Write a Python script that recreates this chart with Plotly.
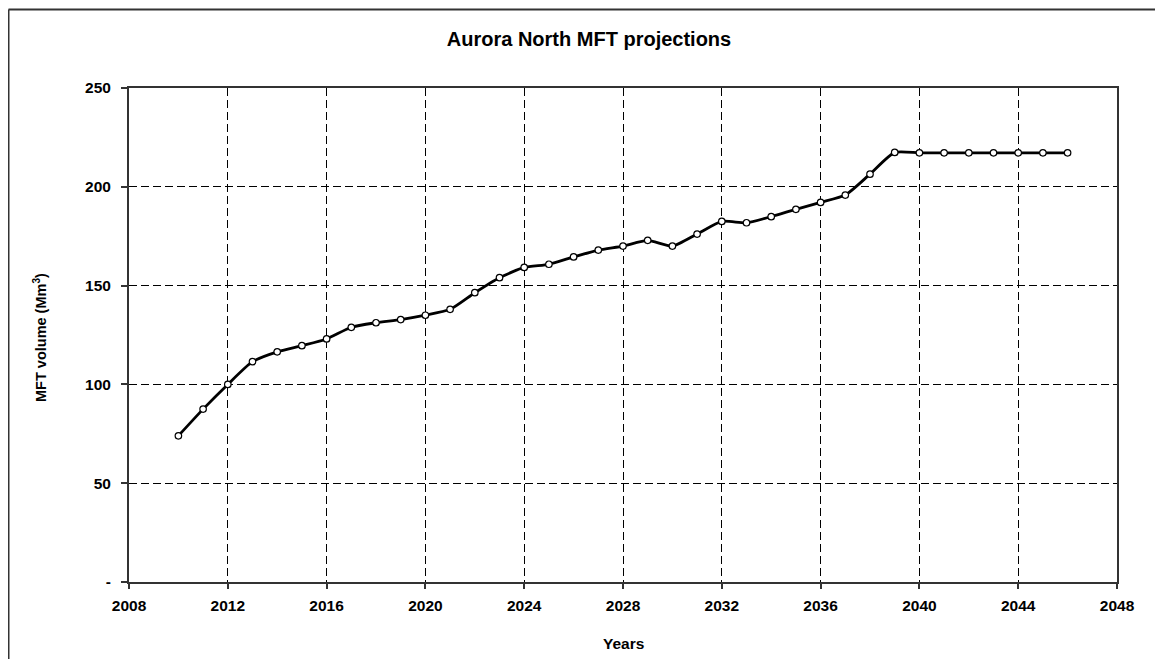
import plotly.graph_objects as go

years = list(range(2010, 2047))
mft_volume = [74.0, 87.5, 100.0, 111.5, 116.5, 119.6, 123.0, 128.9, 131.2, 132.8,
              135.0, 138.0, 146.4, 154.0, 159.2, 160.8, 164.5, 168.0, 170.0, 172.9,
              170.0, 176.1, 182.5, 181.8, 184.9, 188.6, 192.1, 195.8, 206.4, 217.4,
              217.2, 217.2, 217.2, 217.2, 217.2, 217.2, 217.2]

x_ticks = list(range(2008, 2049, 4))
y_ticks = [0, 50, 100, 150, 200, 250]
y_ticktext = ["-", "50", "100", "150", "200", "250"]

FONT = "Liberation Sans, Arial, sans-serif"

fig = go.Figure()
fig.add_trace(go.Scatter(
    x=years, y=mft_volume, mode="lines+markers",
    line=dict(color="black", width=2.8, shape="spline", smoothing=0.6),
    marker=dict(symbol="circle", size=6.5, color="white",
                line=dict(color="black", width=1.2)),
    showlegend=False, hoverinfo="x+y"))

# page body has an 8px margin: figure placed at (8, 8)
OFF = 8
W, H = 1163 - 2 * OFF, 667 - 2 * OFF
L, R, T, B = 129 - OFF, 1117 - OFF, 88 - OFF, 582 - OFF

def px(xp):
    return (xp - OFF - L) / (R - L)

def py(yp):
    return (B - (yp - OFF)) / (B - T)

fig.update_layout(
    width=W, height=H,
    margin=dict(l=L, r=W - R, t=T, b=H - B),
    paper_bgcolor="white", plot_bgcolor="white",
    font=dict(family=FONT, color="black", size=15),
    title=dict(text="<b>Aurora North MFT projections</b>",
               x=(589 - OFF) / W, xanchor="center",
               y=1 - (38.5 - OFF) / H, yanchor="middle",
               font=dict(size=20, family=FONT, color="black")),
)

fig.update_xaxes(
    range=[2008, 2048], tickvals=x_ticks, ticktext=[f"<b>{v}</b>" for v in x_ticks],
    showgrid=True, gridcolor="black", griddash="8px,4px", gridwidth=1.4,
    showline=True, linecolor="#333333", linewidth=2, mirror=True,
    ticks="outside", ticklen=5, tickwidth=1.5, tickcolor="#333333",
    tickfont=dict(size=15.5, family=FONT), zeroline=False, ticklabelstandoff=3)
fig.update_yaxes(
    range=[0, 250], tickvals=y_ticks, ticktext=[f"<b>{t}</b>" for t in y_ticktext],
    showgrid=True, gridcolor="black", griddash="8px,4px", gridwidth=1.4,
    showline=True, linecolor="#333333", linewidth=2, mirror=True,
    ticks="outside", ticklen=6, tickwidth=1.5, tickcolor="#333333",
    tickfont=dict(size=15.5, family=FONT), zeroline=False, ticklabelstandoff=7)

fig.add_annotation(text="<b>Years</b>", xref="paper", yref="paper",
                   x=px(623), y=py(643),
                   showarrow=False, font=dict(size=15.5, family=FONT),
                   xanchor="center", yanchor="middle")
fig.add_annotation(text="<b>MFT volume (Mm<sup>3</sup>)</b>", xref="paper", yref="paper",
                   x=px(40), y=py(338), textangle=-90,
                   showarrow=False, font=dict(size=14.5, family=FONT),
                   xanchor="center", yanchor="middle")

# outer chart border (only left and top edges are visible in the frame)
fig.add_shape(type="line", xref="paper", yref="paper",
              x0=px(8.5), x1=px(8.5), y0=py(700), y1=py(9.5),
              line=dict(color="#333333", width=2))
fig.add_shape(type="line", xref="paper", yref="paper",
              x0=px(8.5), x1=px(1200), y0=py(9.5), y1=py(9.5),
              line=dict(color="#333333", width=2))

fig.write_html("out.html")
